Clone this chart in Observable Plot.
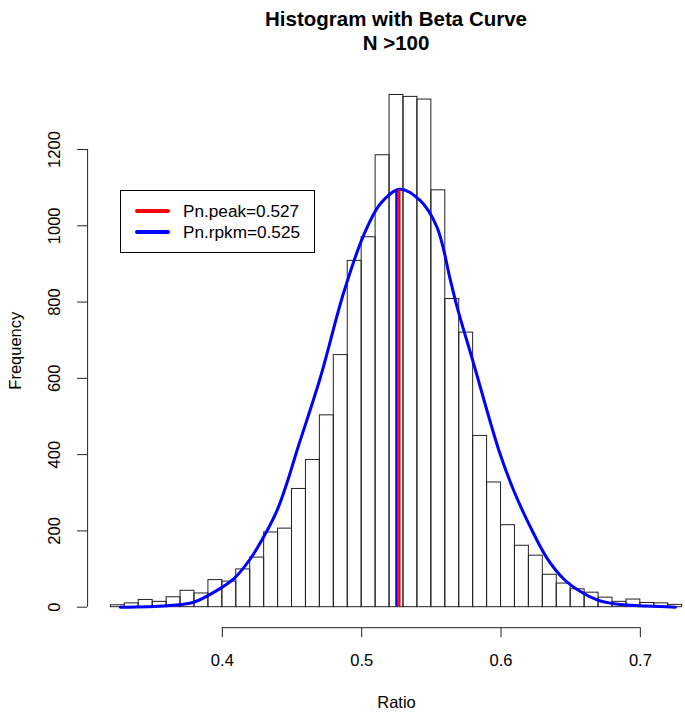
<!DOCTYPE html>
<html>
<head>
<meta charset="utf-8">
<script src="https://cdn.jsdelivr.net/npm/d3@7"></script>
<script src="https://cdn.jsdelivr.net/npm/@observablehq/plot@0.6"></script>
<style>
  html, body { margin: 0; padding: 0; background: #fff; overflow: hidden; }
  #wrap { position: relative; width: 685px; height: 718px; font-family: "Liberation Sans", Arial, Helvetica, sans-serif; color: #000; }
  #title { position: absolute; left: 396px; top: 6.5px; transform: translateX(-50%); white-space: nowrap; text-align: center; font-weight: bold; font-size: 20.5px; line-height: 24px; }
  #legend { position: absolute; left: 120px; top: 190px; width: 195px; height: 63px; border: 1px solid #000; box-sizing: border-box; background: #fff; }
  .sw { position: absolute; left: 14px; width: 35px; height: 4px; border-radius: 2px; }
  .lt { position: absolute; left: 62px; font-size: 17.2px; line-height: 21px; white-space: nowrap; }
  #chart { position: absolute; left: 0; top: 0; }
</style>
</head>
<body>
<div id="wrap">
  <div id="chart"></div>
  <div id="title"></div>
  <div id="legend"></div>
</div>
<script>
// ---- data ----
const titleLines = ["Histogram with Beta Curve", "N >100"];
const xLabel = "Ratio";
const yLabel = "Frequency";

const binEdges = [0.32, 0.33, 0.34, 0.35, 0.36, 0.37, 0.38, 0.39, 0.40, 0.41,
  0.42, 0.43, 0.44, 0.45, 0.46, 0.47, 0.48, 0.49, 0.50, 0.51, 0.52, 0.53, 0.54,
  0.55, 0.56, 0.57, 0.58, 0.59, 0.60, 0.61, 0.62, 0.63, 0.64, 0.65, 0.66, 0.67,
  0.68, 0.69, 0.70, 0.71, 0.72, 0.73];
const binCounts = [5, 10, 19, 14, 26, 43, 36, 71, 67, 99,
  130, 196, 206, 310, 386, 503, 661, 908, 970, 1185, 1343, 1338, 1331,
  1093, 808, 720, 449, 327, 215, 161, 135, 85, 62, 47, 38, 25,
  14, 20, 11, 10, 6];

const curveX = [0.3268, 0.3603, 0.3794, 0.3962, 0.4081, 0.4201, 0.4296, 0.4393,
  0.4464, 0.4536, 0.4704, 0.4871, 0.5014, 0.5134, 0.5273, 0.5421, 0.5541, 0.5637,
  0.5685, 0.5804, 0.5985, 0.6091, 0.6211, 0.6331, 0.6450, 0.6570, 0.6690, 0.6809,
  0.7049, 0.7252];
const curveY = [0, 4, 13, 44, 74, 127, 184, 254,
  326, 411, 603, 825, 975, 1058, 1096, 1066, 996, 857,
  787, 638, 411, 306, 210, 128, 74, 41, 19, 9,
  3, 0];

const refNames = ["Pn.peak", "Pn.rpkm"];
const refValues = [0.527, 0.525];
const refTop = 1094;

const xTicks = [0.4, 0.5, 0.6, 0.7];
const yTicks = [0, 200, 400, 600, 800, 1000, 1200];

// ---- build ----
const refColor = {"Pn.peak": "#ff0000", "Pn.rpkm": "#0000ff"};
const bins = binCounts.map((c, i) => ({x1: binEdges[i], x2: binEdges[i + 1], count: c}));
const curve = curveX.map((x, i) => ({x, y: curveY[i]}));
const refs = refNames.map((n, i) => ({name: n, value: refValues[i]}));
const drawOrder = [refs[1], refs[0]];

const xDomain = [0.3033, 0.7324];
const yDomain = [-53.8, 1398.8];
const font = "'Liberation Sans', Arial, Helvetica, sans-serif";

const plot = Plot.plot({
  width: 685,
  height: 718,
  marginLeft: 87.1,
  marginRight: 0,
  marginTop: 73.2,
  marginBottom: 90.8,
  style: {fontFamily: font, fontSize: "16.5px", color: "#000", background: "white"},
  x: {domain: xDomain},
  y: {domain: yDomain},
  marks: [
    Plot.rectY(bins, {x1: "x1", x2: "x2", y1: 0, y2: "count", fill: "none", stroke: "#222", strokeWidth: 1}),
    Plot.line(curve, {x: "x", y: "y", stroke: "#0000ff", strokeWidth: 3, curve: "catmull-rom"}),
    Plot.ruleX(drawOrder, {x: "value", y1: 0, y2: refTop, stroke: d => refColor[d.name], strokeWidth: 2.5}),
    // x axis
    Plot.ruleY([yDomain[0]], {x1: xTicks[0], x2: xTicks[xTicks.length - 1], stroke: "#222"}),
    Plot.axisX({ticks: xTicks, tickSize: 10, tickPadding: 17, fontSize: 16.5, label: null, stroke: "#222", tickFormat: d => String(d)}),
    Plot.text([xLabel], {x: [0.525], text: d => d, frameAnchor: "bottom", dy: 75, lineAnchor: "middle", fontSize: 16.5}),
    // y axis
    Plot.ruleX([xDomain[0]], {y1: yTicks[0], y2: yTicks[yTicks.length - 1], stroke: "#222"}),
    Plot.axisY({ticks: yTicks, tickSize: 10, label: null, stroke: "#222", tickFormat: () => ""}),
    Plot.text(yTicks, {x: xDomain[0], y: d => d, text: d => String(d), rotate: -90, dx: -33, textAnchor: "middle", lineAnchor: "middle", fontSize: 16.5}),
    Plot.text([yLabel], {frameAnchor: "left", text: d => d, rotate: -90, dx: -72, textAnchor: "middle", lineAnchor: "middle", fontSize: 16.5})
  ]
});
document.getElementById("chart").appendChild(plot);

// title
const t = document.getElementById("title");
titleLines.forEach(s => { const d = document.createElement("div"); d.textContent = s; t.appendChild(d); });

// legend
const lg = document.getElementById("legend");
refs.forEach((r, i) => {
  const sw = document.createElement("div");
  sw.className = "sw";
  sw.style.background = refColor[r.name];
  sw.style.top = (17.7 + 21 * i) + "px";
  lg.appendChild(sw);
  const tx = document.createElement("div");
  tx.className = "lt";
  tx.style.top = (9.5 + 21 * i) + "px";
  tx.textContent = `${r.name}=${r.value}`;
  lg.appendChild(tx);
});
</script>
</body>
</html>
